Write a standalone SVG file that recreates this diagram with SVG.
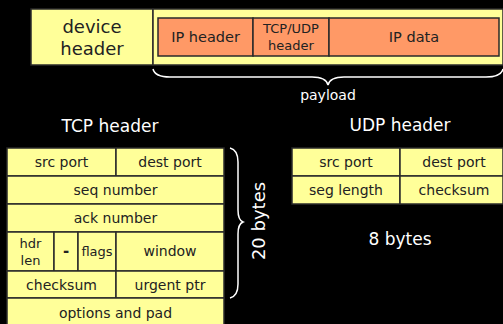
<svg xmlns="http://www.w3.org/2000/svg" width="503" height="324" viewBox="0 0 503 324">
  <style>
    .cell { fill: #FFFF99; stroke: #2a2a2a; stroke-width: 1.5; }
    .ocell { fill: #FF9966; stroke: #2a2a2a; stroke-width: 1.5; }
    .t { font-family: "DejaVu Sans", "Liberation Sans", sans-serif; fill: #222; text-anchor: middle; }
    .w { font-family: "DejaVu Sans", "Liberation Sans", sans-serif; fill: #fff; text-anchor: middle; }
    .brace { fill: none; stroke: #fff; stroke-width: 1.5; }
  </style>
  <rect x="0" y="0" width="503" height="324" fill="#000"/>

  <!-- frame: device header + payload -->
  <g id="device-header">
    <rect class="cell" x="31" y="9" width="122" height="56"/>
    <text class="t" x="92" y="33" font-size="18">device</text>
    <text class="t" x="92" y="55" font-size="18">header</text>
  </g>
  <g id="payload-box">
    <rect class="cell" x="153" y="9" width="350" height="56"/>
  </g>
  <g id="ip-header">
    <rect class="ocell" x="158" y="18" width="95" height="38"/>
    <text class="t" x="205.5" y="42" font-size="14.5">IP header</text>
  </g>
  <g id="tcpudp-header">
    <rect class="ocell" x="253" y="18" width="76" height="38"/>
    <text class="t" x="291" y="33" font-size="13">TCP/UDP</text>
    <text class="t" x="291" y="50" font-size="13">header</text>
  </g>
  <g id="ip-data">
    <rect class="ocell" x="329" y="18" width="170" height="38"/>
    <text class="t" x="414" y="42" font-size="14.5">IP data</text>
  </g>

  <g id="connectors">
    <!-- payload brace -->
    <path class="brace" d="M153,69 Q155,77 170,77 L312,77 Q326,77 328,85 Q330,77 344,77 L486,77 Q501,77 503,69"/>
    <!-- 20 bytes brace -->
    <path class="brace" d="M230,148 Q238,150 238,162 L238,210 Q238,220 243,222 Q238,224 238,234 L238,284 Q238,296 230,298"/>
  </g>
  <text class="w" x="328" y="100" font-size="14">payload</text>

  <!-- TCP header -->
  <text class="w" x="110" y="132" font-size="17">TCP header</text>
  <g id="tcp-src-port">
    <rect class="cell" x="7" y="148" width="109" height="28"/>
    <text class="t" x="61.5" y="167" font-size="14">src port</text>
  </g>
  <g id="tcp-dest-port">
    <rect class="cell" x="116" y="148" width="108" height="28"/>
    <text class="t" x="170" y="167" font-size="14">dest port</text>
  </g>
  <g id="tcp-seq">
    <rect class="cell" x="7" y="176" width="217" height="28"/>
    <text class="t" x="115.5" y="195" font-size="14">seq number</text>
  </g>
  <g id="tcp-ack">
    <rect class="cell" x="7" y="204" width="217" height="28"/>
    <text class="t" x="115.5" y="223" font-size="14">ack number</text>
  </g>
  <g id="tcp-hdr-len">
    <rect class="cell" x="7" y="232" width="47" height="39"/>
    <text class="t" x="30.5" y="248" font-size="13">hdr</text>
    <text class="t" x="30.5" y="265" font-size="13">len</text>
  </g>
  <g id="tcp-reserved">
    <rect class="cell" x="54" y="232" width="24" height="39"/>
    <text class="t" x="66" y="256" font-size="15" font-weight="bold">-</text>
  </g>
  <g id="tcp-flags">
    <rect class="cell" x="78" y="232" width="38" height="39"/>
    <text class="t" x="97" y="256" font-size="13">flags</text>
  </g>
  <g id="tcp-window">
    <rect class="cell" x="116" y="232" width="108" height="39"/>
    <text class="t" x="170" y="256" font-size="14">window</text>
  </g>
  <g id="tcp-checksum">
    <rect class="cell" x="7" y="271" width="109" height="27"/>
    <text class="t" x="61.5" y="290" font-size="14">checksum</text>
  </g>
  <g id="tcp-urgent">
    <rect class="cell" x="116" y="271" width="108" height="27"/>
    <text class="t" x="170" y="290" font-size="14">urgent ptr</text>
  </g>
  <g id="tcp-options">
    <rect class="cell" x="7" y="298" width="217" height="30"/>
    <text class="t" x="115.5" y="318" font-size="14">options and pad</text>
  </g>
  <text class="w" x="0" y="0" font-size="18" transform="translate(265,221) rotate(-90)">20 bytes</text>

  <!-- UDP header -->
  <text class="w" x="400" y="131" font-size="17">UDP header</text>
  <g id="udp-src-port">
    <rect class="cell" x="292" y="148" width="108" height="28"/>
    <text class="t" x="346" y="167" font-size="14">src port</text>
  </g>
  <g id="udp-dest-port">
    <rect class="cell" x="400" y="148" width="103" height="28"/>
    <text class="t" x="454" y="167" font-size="14">dest port</text>
  </g>
  <g id="udp-length">
    <rect class="cell" x="292" y="176" width="108" height="28"/>
    <text class="t" x="346" y="195" font-size="14">seg length</text>
  </g>
  <g id="udp-checksum">
    <rect class="cell" x="400" y="176" width="103" height="28"/>
    <text class="t" x="454" y="195" font-size="14">checksum</text>
  </g>
  <text class="w" x="400" y="245" font-size="17">8 bytes</text>
</svg>
